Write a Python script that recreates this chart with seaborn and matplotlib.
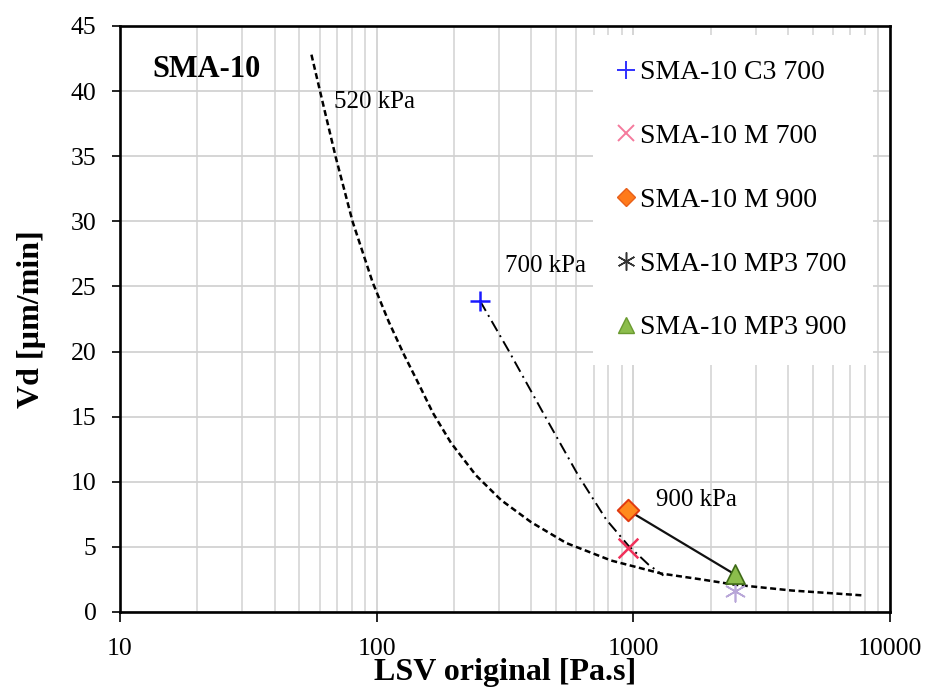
import numpy as np
import pandas as pd
import matplotlib
matplotlib.use("Agg")
import matplotlib.pyplot as plt
from matplotlib.lines import Line2D
from matplotlib.ticker import NullFormatter, LogLocator
import seaborn as sns

# ---------------- data ----------------
series_labels = ["SMA-10 C3 700", "SMA-10 M 700", "SMA-10 M 900",
                 "SMA-10 MP3 700", "SMA-10 MP3 900"]
point_lsv = [252, 955, 955, 2480, 2480]
point_vd = [23.9, 4.9, 7.8, 1.6, 2.9]

curve520_lsv = [55.7, 61.5, 69.2, 80.6, 96.5, 111.4, 127.5, 145.9, 165.5, 194.6,
                243.6, 305.1, 399.6, 547.4, 820.4, 1287, 1844, 2480, 4142, 7914]
curve520_vd = [42.8, 39.2, 34.96, 29.97, 25.3, 22.3, 19.8, 17.5, 15.3, 13.0,
               10.5, 8.6, 6.9, 5.3, 3.95, 2.95, 2.5, 2.1, 1.65, 1.27]

curve700_lsv = [252.6, 325, 449, 610, 784, 956, 1144, 1310]
curve700_vd = [23.9, 20.15, 15.16, 10.49, 7.1, 5.1, 3.65, 2.8]

line900_lsv = [955, 2480]
line900_vd = [7.8, 2.9]

x_ticks = [10, 100, 1000, 10000]
x_tick_labels = ["10", "100", "1000", "10000"]
y_ticks = [0, 5, 10, 15, 20, 25, 30, 35, 40, 45]

# ---------------- style ----------------
sns.set_theme(style="white")
plt.rcParams["font.family"] = ["Liberation Serif", "DejaVu Serif"]
plt.rcParams["axes.unicode_minus"] = False
plt.rcParams["text.color"] = "black"
plt.rcParams["axes.labelcolor"] = "black"

fig = plt.figure(figsize=(9.28, 6.97), dpi=100)
ax = fig.add_axes([120 / 928, 1 - 612 / 697, 770 / 928, 586 / 697])

grid_c = "#d2d2d2"

# lines
sns.lineplot(x=curve520_lsv, y=curve520_vd, ax=ax, sort=False, estimator=None,
             color="black", linewidth=1.8, linestyle=(0, (2.4, 1.4)), zorder=3)
sns.lineplot(x=curve700_lsv, y=curve700_vd, ax=ax, sort=False, estimator=None,
             color="black", linewidth=1.4, linestyle=(0, (6, 2.5, 1, 2.5)), zorder=3)
sns.lineplot(x=line900_lsv, y=line900_vd, ax=ax, sort=False, estimator=None,
             color="#111111", linewidth=1.6, zorder=3)

# points
sns.scatterplot(x=[point_lsv[0]], y=[point_vd[0]], ax=ax, marker="+", s=210,
                color="#1a1aff", linewidth=1.8, zorder=5)
sns.scatterplot(x=[point_lsv[1]], y=[point_vd[1]], ax=ax, marker="x", s=200,
                color="#f0305a", linewidth=1.8, zorder=5)
sns.scatterplot(x=[point_lsv[2]], y=[point_vd[2]], ax=ax, marker="D", s=120,
                color="#ff8a1e", edgecolor="#e03a10", linewidth=1.4, zorder=5)
sns.scatterplot(x=[point_lsv[3]], y=[point_vd[3]], ax=ax, marker=(6, 2, 0), s=220,
                color="#b8a6d8", linewidth=1.2, zorder=4)
sns.scatterplot(x=[point_lsv[4]], y=[point_vd[4]], ax=ax, marker="^", s=190,
                color="#8cbd4c", edgecolor="#3f6a18", linewidth=1.2, zorder=6)

# axes
ax.set_xscale("log")
ax.set_xlim(10, 10000)
ax.set_ylim(0, 45)
ax.set_xticks(x_ticks)
ax.set_xticklabels(x_tick_labels)
ax.xaxis.set_minor_locator(LogLocator(base=10, subs=np.arange(2, 10)))
ax.xaxis.set_minor_formatter(NullFormatter())
ax.set_yticks(y_ticks)
ax.set_yticklabels([str(v) for v in y_ticks])

ax.grid(True, which="major", axis="both", color=grid_c, linewidth=1.3, zorder=0)
ax.grid(True, which="minor", axis="x", color=grid_c, linewidth=1.1, zorder=0)
ax.set_axisbelow(True)

for sp in ax.spines.values():
    sp.set_color("black")
    sp.set_linewidth(1.9)
    sp.set_visible(True)

ax.tick_params(axis="x", which="major", direction="out", length=7, width=1.2,
               colors="black", labelsize=18.5, pad=12, bottom=True)
ax.tick_params(axis="x", which="minor", length=0)
ax.tick_params(axis="y", which="major", direction="out", length=6, width=1.2,
               colors="black", labelsize=18.5, pad=11, left=True)

ax.set_xlabel("LSV original [Pa.s]", fontsize=23, fontweight="bold", labelpad=-2,
              color="black")
ax.set_ylabel("Vd [µm/min]", fontsize=23, fontweight="bold", labelpad=18,
              color="black")

# annotations
ax.text(0.042, 0.925, "SMA-10", transform=ax.transAxes, fontsize=22,
        fontweight="bold", va="center", ha="left", color="black")
ax.text(68, 39.2, "520 kPa", fontsize=18, va="center", ha="left", color="black")
ax.text(316, 26.6, "700 kPa", fontsize=18, va="center", ha="left", color="black")
ax.text(1230, 8.6, "900 kPa", fontsize=18, va="center", ha="left", color="black")

# legend
handles = [
    Line2D([], [], linestyle="none", marker="+", markersize=13, markeredgewidth=1.4,
           color="#3030ff"),
    Line2D([], [], linestyle="none", marker="x", markersize=11, markeredgewidth=1.4,
           color="#f57a9c"),
    Line2D([], [], linestyle="none", marker="D", markersize=9, markerfacecolor="#ff7a1a",
           markeredgecolor="#e8601a", markeredgewidth=1.0),
    Line2D([], [], linestyle="none", marker=(6, 2, 0), markersize=13, markeredgewidth=1.1,
           color="#333333"),
    Line2D([], [], linestyle="none", marker="^", markersize=12, markerfacecolor="#8cbd4c",
           markeredgecolor="#6a9a30", markeredgewidth=1.0),
]
leg = ax.legend(handles, series_labels, loc="upper left",
                bbox_to_anchor=(0.614, 0.0, 0.364, 0.985), mode="expand",
                borderaxespad=0, borderpad=0.9, handlelength=0.6, handletextpad=0.2,
                labelspacing=1.38, fontsize=20, frameon=True, fancybox=False,
                framealpha=1.0, facecolor="white", edgecolor="white")
leg.get_frame().set_linewidth(0)
leg.set_zorder(10)
for t in leg.get_texts():
    t.set_color("black")

fig.savefig("out.png", dpi=100, facecolor="white")
